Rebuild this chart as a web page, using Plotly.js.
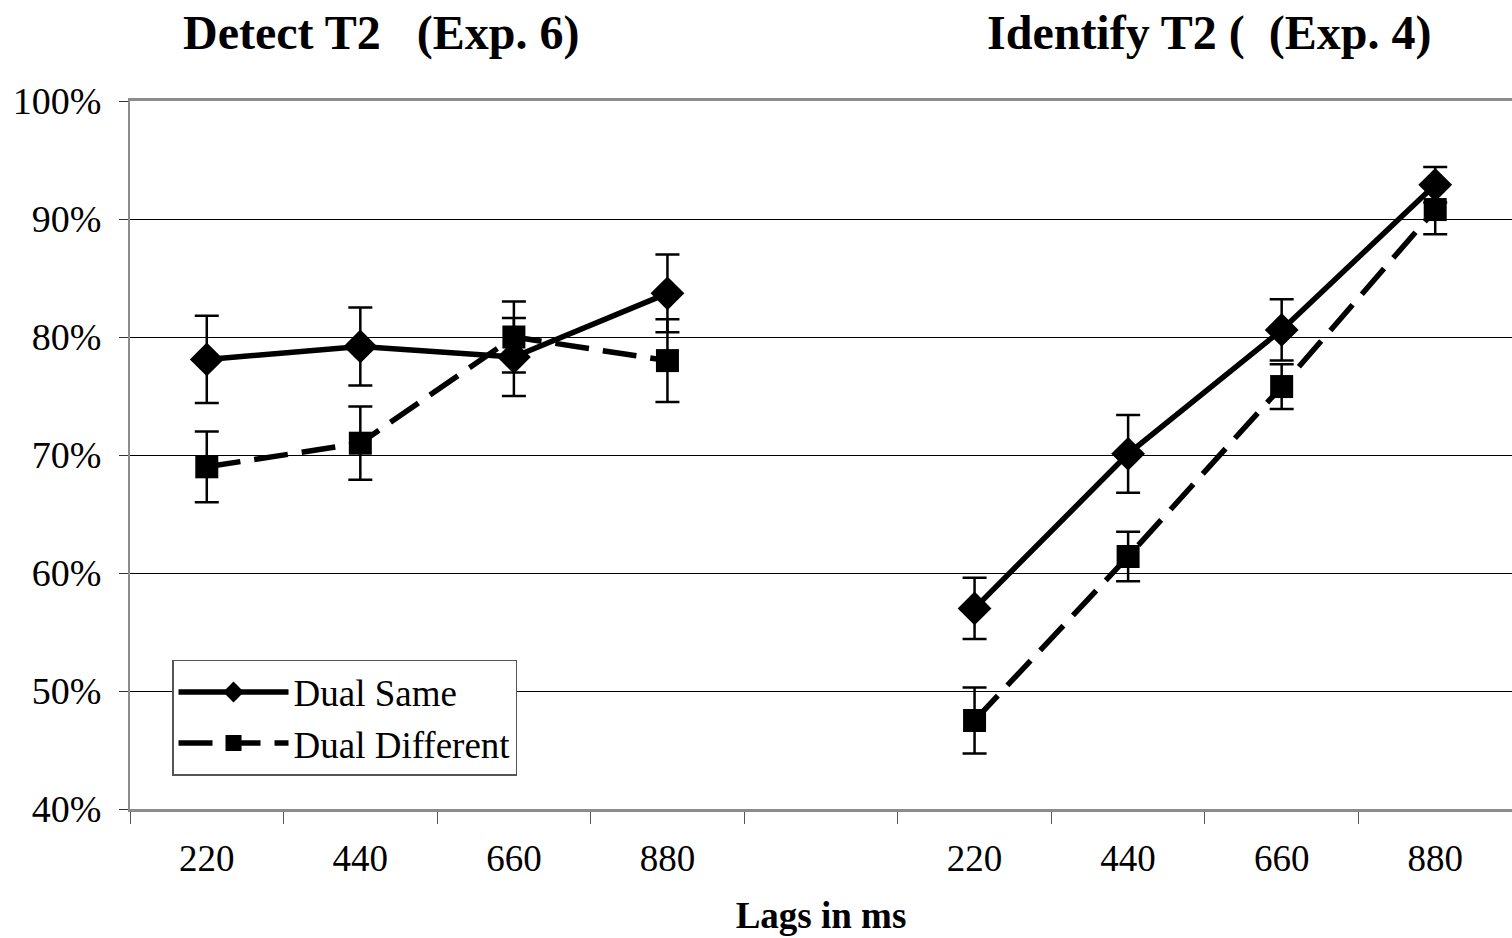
<!DOCTYPE html>
<html>
<head>
<meta charset="utf-8">
<script src="https://cdn.plot.ly/plotly-3.0.1.min.js"></script>
<style>html,body{margin:0;padding:0;background:#fff;}#chart{width:1512px;height:938px;}</style>
</head>
<body>
<div id="chart"></div>
<script>
// ---- data (percent correct) ----
const lags = [220, 440, 660, 880];
const panelTitles = ["Detect T2\u00a0\u00a0\u00a0(Exp. 6)", "Identify T2 (\u00a0\u00a0(Exp. 4)"];
const seriesNames = ["Dual Same", "Dual Different"];

const detectSame = [78.1, 79.2, 78.3, 83.7];
const detectSameErr = [3.7, 3.3, 3.3, 3.3];
const detectDiff = [69.0, 71.0, 80.0, 78.0];
const detectDiffErr = [3.0, 3.1, 3.0, 3.5];

const identifySame = [57.0, 70.1, 80.6, 92.9];
const identifySameErr = [2.6, 3.3, 2.6, 1.5];
const identifyDiff = [47.5, 61.4, 75.8, 90.8];
const identifyDiffErr = [2.8, 2.1, 1.9, 2.1];

// ---- layout of slots: left panel, gap, right panel ----
const nSlots = lags.length * 2 + 1;
const slotX = [];
for (let i = 0; i < nSlots; i++) slotX.push(i + 1);
const labelSlots = slotX.filter((v, i) => i !== lags.length);
const labelText = lags.concat(lags).map(String);
const boundaries = [];
for (let i = 0; i <= nSlots; i++) boundaries.push(i + 0.5);

function joinPanels(a, b) { return a.concat([null], b); }

const FONT = "'Liberation Serif', 'Times New Roman', Times, serif";

const traces = [
  {
    name: seriesNames[0], type: 'scatter', mode: 'lines+markers',
    x: slotX, y: joinPanels(detectSame, identifySame),
    line: {color: '#000', width: 5.5},
    marker: {symbol: 'diamond', size: 26, color: '#000'},
    error_y: {type: 'data', array: joinPanels(detectSameErr, identifySameErr), visible: true,
              color: '#000', thickness: 2.5, width: 12},
    connectgaps: false, cliponaxis: false
  },
  {
    name: seriesNames[1], type: 'scatter', mode: 'lines+markers',
    x: slotX, y: joinPanels(detectDiff, identifyDiff),
    line: {color: '#000', width: 5.5, dash: '34px,14px'},
    marker: {symbol: 'square', size: 23, color: '#000'},
    error_y: {type: 'data', array: joinPanels(detectDiffErr, identifyDiffErr), visible: true,
              color: '#000', thickness: 2.5, width: 12},
    connectgaps: false, cliponaxis: false
  },
  {
    x: [null], y: [null], xaxis: 'x2', type: 'scatter', mode: 'markers',
    showlegend: false, hoverinfo: 'skip'
  }
];

const layout = {
  width: 1512, height: 938,
  margin: {l: 130, r: 0, t: 101, b: 129},
  paper_bgcolor: '#fff', plot_bgcolor: '#fff',
  font: {family: FONT, size: 37, color: '#000'},
  showlegend: true,
  legend: {
    x: 0.0304, y: 0.2105, xanchor: 'left', yanchor: 'top',
    bgcolor: '#fff', bordercolor: '#555', borderwidth: 1.5,
    font: {family: FONT, size: 37, color: '#000'},
    tracegroupgap: 0, itemwidth: 110
  },
  xaxis: {
    range: [0.5, nSlots + 0.5],
    tickmode: 'array', tickvals: boundaries, ticktext: boundaries.map(() => ''),
    ticks: 'outside', ticklen: 12, tickwidth: 1, tickcolor: '#555',
    showline: true, linecolor: '#8c8c8c', linewidth: 3, mirror: true,
    showgrid: false, zeroline: false,
    title: {text: '<b>Lags in ms</b>', font: {family: FONT, size: 37, color: '#000'}, standoff: 72},
    automargin: false
  },
  xaxis2: {
    overlaying: 'x', matches: 'x', anchor: 'y',
    range: [0.5, nSlots + 0.5],
    tickmode: 'array', tickvals: labelSlots, ticktext: labelText,
    ticks: '', showline: false, showgrid: false, zeroline: false,
    tickfont: {family: FONT, size: 37, color: '#000'},
    ticklabelstandoff: 24, automargin: false
  },
  yaxis: {
    range: [40, 100], dtick: 10, tick0: 40, ticksuffix: '%',
    ticks: 'outside', ticklen: 9, tickwidth: 1, tickcolor: '#333',
    showline: true, linecolor: '#8c8c8c', linewidth: 2,
    showgrid: true, gridcolor: '#000', gridwidth: 1, zeroline: false,
    tickfont: {family: FONT, size: 38, color: '#000'},
    ticklabelstandoff: 10,
    automargin: false
  },
  annotations: [
    {text: '<b>' + panelTitles[0] + '</b>', xref: 'paper', yref: 'paper', x: 0.1816, y: 1.096,
     xanchor: 'center', yanchor: 'middle', showarrow: false,
     font: {family: FONT, size: 48, color: '#000'}},
    {text: '<b>' + panelTitles[1] + '</b>', xref: 'paper', yref: 'paper', x: 0.781, y: 1.096,
     xanchor: 'center', yanchor: 'middle', showarrow: false,
     font: {family: FONT, size: 48, color: '#000'}}
  ]
};

Plotly.newPlot('chart', traces, layout, {staticPlot: true, displayModeBar: false});
</script>
</body>
</html>
